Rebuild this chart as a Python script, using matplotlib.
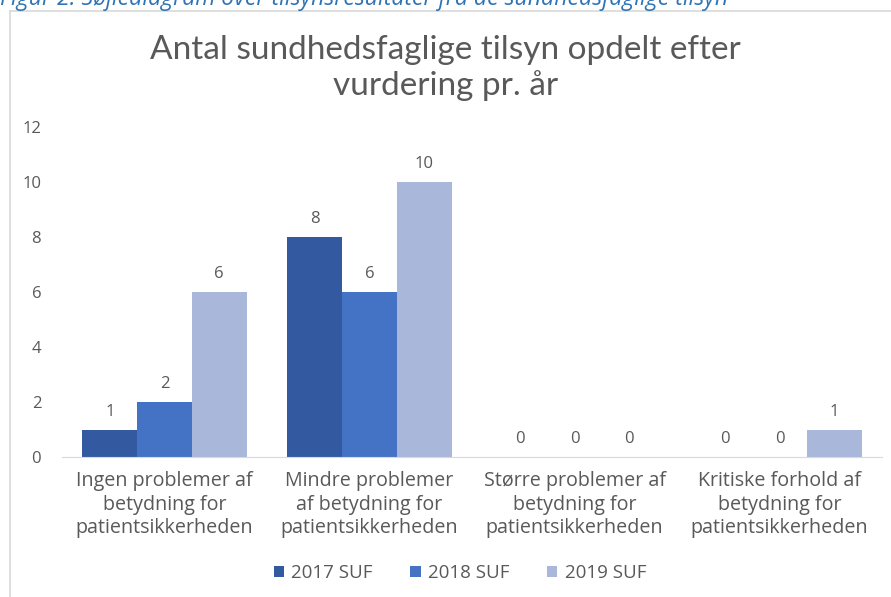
import numpy as np
import matplotlib
matplotlib.use("Agg")
import matplotlib.pyplot as plt
from matplotlib.lines import Line2D

plt.rcParams['font.family'] = ['Open Sans', 'DejaVu Sans']

categories = ["Ingen problemer af\nbetydning for\npatientsikkerheden",
              "Mindre problemer\naf betydning for\npatientsikkerheden",
              "Større problemer af\nbetydning for\npatientsikkerheden",
              "Kritiske forhold af\nbetydning for\npatientsikkerheden"]
series = ["2017 SUF", "2018 SUF", "2019 SUF"]
v2017 = [1, 8, 0, 0]
v2018 = [2, 6, 0, 0]
v2019 = [6, 10, 0, 1]
colors = ["#335AA1", "#4472C4", "#A9B7DA"]
txt = "#595959"

fig = plt.figure(figsize=(8.91, 5.97), dpi=100)
ax = fig.add_axes([62 / 891, 1 - 457 / 597, 820 / 891, 330 / 597])

x = np.arange(len(categories))
w = 0.267
for i, (vals, name) in enumerate(zip([v2017, v2018, v2019], series)):
    pos = x + (i - 1) * w
    ax.bar(pos, vals, width=w, color=colors[i], label=name)
    for xp, v in zip(pos, vals):
        ax.text(xp, v + 0.35, str(v), ha='center', va='bottom',
                fontsize=12, color=txt)

ax.set_xlim(-0.5, 3.5)
ax.set_ylim(0, 12)
ax.set_yticks(range(0, 13, 2))
ax.tick_params(axis='y', length=0, pad=15, labelsize=12, labelcolor=txt)
ax.set_xticks(x)
ax.set_xticklabels(categories, fontsize=14.2, color=txt, linespacing=1.25)
ax.tick_params(axis='x', length=0, pad=10)
for s in ['top', 'right', 'left']:
    ax.spines[s].set_visible(False)
ax.spines['bottom'].set_color('#D9D9D9')

fig.text(0.5, 1 - 68 / 597, "Antal sundhedsfaglige tilsyn opdelt efter\nvurdering pr. år",
         family=['Lato', 'DejaVu Sans'], ha='center', va='center',
         fontsize=24, color=txt, linespacing=1.2)

fig.text(0.0, 1 - 5 / 597,
         "Figur 2: Søjlediagram over tilsynsresultater fra de sundhedsfaglige tilsyn",
         ha='left', va='baseline', fontsize=16.6, color='#2E74B5', style='italic')

# chart frame
fig.add_artist(Line2D([10 / 891, 1], [1 - 11 / 597] * 2, color='#D9D9D9', lw=1.2))
fig.add_artist(Line2D([10 / 891] * 2, [0, 1 - 11 / 597], color='#D9D9D9', lw=1.2))

ax.legend(loc='center', bbox_to_anchor=(460 / 891, 1 - 573 / 597),
          bbox_transform=fig.transFigure, ncol=3, frameon=False,
          fontsize=13.5, labelcolor=txt, handlelength=0.55, handleheight=0.55,
          handletextpad=0.4, columnspacing=2.0)

fig.savefig("out.png", dpi=100)
